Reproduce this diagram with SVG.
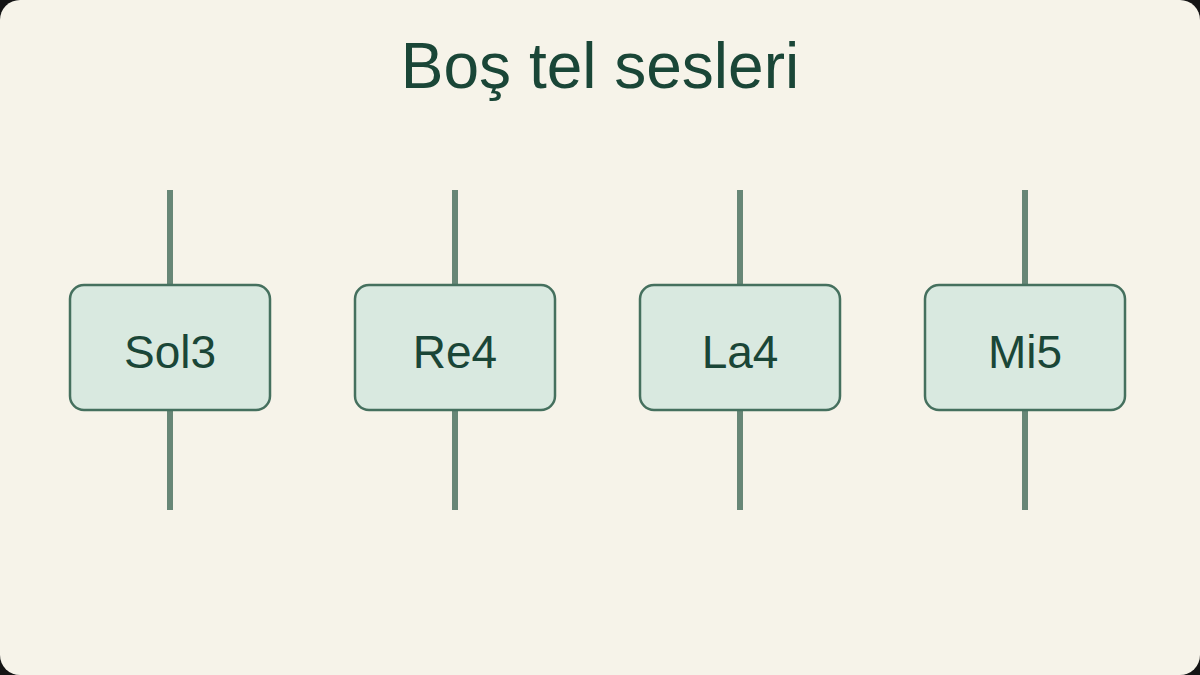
<svg xmlns="http://www.w3.org/2000/svg" width="1200" height="675" viewBox="0 0 1200 675">
<style>
.string{stroke:#678676;stroke-width:6;fill:none}
.box{fill:#D9E9E0;stroke:#45705E;stroke-width:2.5}
.lbl{font-family:"Liberation Sans",Arial,sans-serif;font-size:46px;fill:#1A4637;text-anchor:middle}
.title{font-family:"Liberation Sans",Arial,sans-serif;font-size:64px;fill:#1A4637;text-anchor:middle}
</style>
<rect x="0" y="0" width="1200" height="675" fill="#151515"/>
<rect x="0" y="0" width="1200" height="675" rx="20" fill="#F6F3E9"/>
<text class="title" x="600" y="88">Boş tel sesleri</text>
<g id="connectors">
<line class="string" x1="170" y1="190" x2="170" y2="510"/>
<line class="string" x1="455" y1="190" x2="455" y2="510"/>
<line class="string" x1="740" y1="190" x2="740" y2="510"/>
<line class="string" x1="1025" y1="190" x2="1025" y2="510"/>
</g>
<g id="sol3"><rect class="box" x="70" y="285" width="200" height="125" rx="14"/><text class="lbl" x="170" y="368">Sol3</text></g>
<g id="re4"><rect class="box" x="355" y="285" width="200" height="125" rx="14"/><text class="lbl" x="455" y="368">Re4</text></g>
<g id="la4"><rect class="box" x="640" y="285" width="200" height="125" rx="14"/><text class="lbl" x="740" y="368">La4</text></g>
<g id="mi5"><rect class="box" x="925" y="285" width="200" height="125" rx="14"/><text class="lbl" x="1025" y="368">Mi5</text></g>
</svg>
